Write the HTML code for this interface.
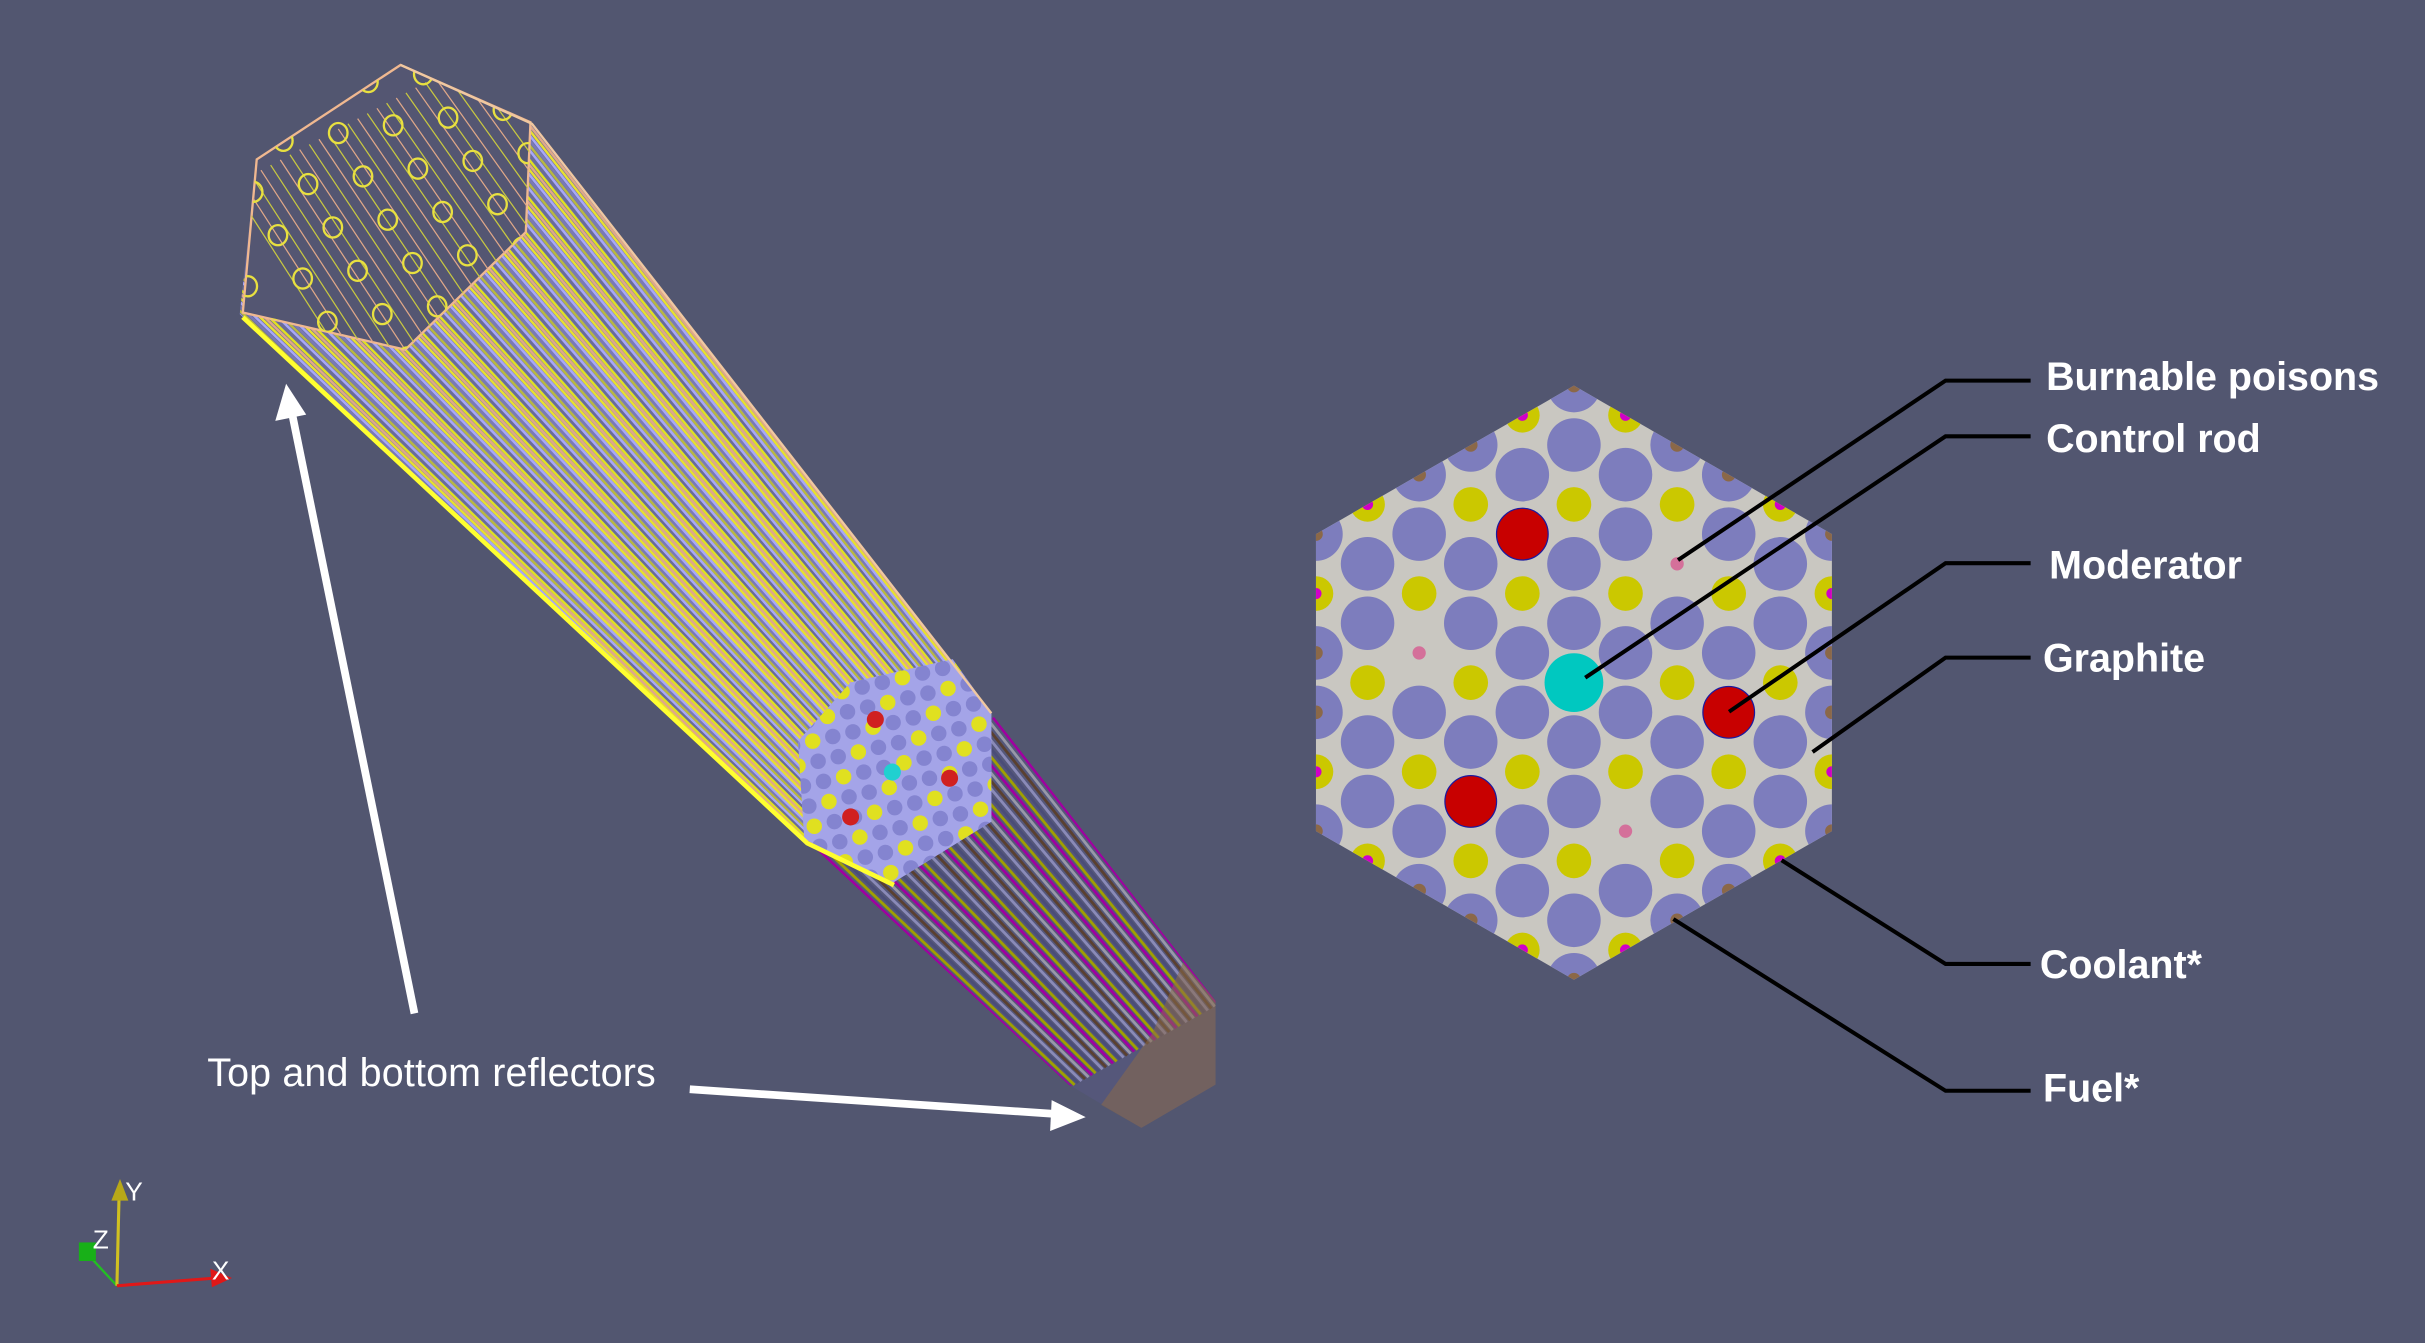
<!DOCTYPE html>
<html><head><meta charset="utf-8"><style>
html,body{margin:0;padding:0;background:#525670;}
svg{display:block;}
text{font-family:"Liberation Sans",sans-serif;fill:#fff;}
</style></head><body>
<svg id="root" width="2425" height="1343" viewBox="0 0 1568 868" preserveAspectRatio="none" xmlns="http://www.w3.org/2000/svg">
<rect x="0" y="0" width="1568" height="868" fill="#525670"/>
<defs>
<clipPath id="hexclip"><polygon points="1017.7,249.2 1184.5,345.2 1184.5,537.2 1017.7,633.2 850.9,537.2 850.9,345.2"/></clipPath>
<clipPath id="bodyclip"><path d="M155,203 L166,103 L259,42 L344,80 L426,185 L641,461 L641,531 L575,572 L520,542 Z"/></clipPath>
<clipPath id="lowclip"><path d="M520,542 L641,461 L786,647 L786,701 L738,729 L691,701 Z"/></clipPath>
<clipPath id="topclip"><path d="M157,202 L166,103 L259,42 L343,79 L340,150 L262,226 Z"/></clipPath>
<clipPath id="endclip"><path d="M516,479 L550,441 L616,426 L641,461 L641,531 L575,572 L520,542 Z"/></clipPath>
<linearGradient id="bodygrad" gradientUnits="userSpaceOnUse" x1="250" y1="120" x2="560" y2="500">
<stop offset="0" stop-color="#64669a"/><stop offset="0.45" stop-color="#8484c8"/><stop offset="1" stop-color="#9c9ce6"/>
</linearGradient>
</defs>

<g id="rod">
  <path d="M520,542 L641,461 L786,647 L786,701 L738,729 L691,701 Z" fill="#55577a"/>
  <g id="lowStripes" clip-path="url(#lowclip)"></g>
  <path d="M765,622 L786,647 L786,701 L738,729 L712,714 L745,668 Z" fill="#8a6a48" fill-opacity="0.55"/>
  <path d="M155,203 L166,103 L259,42 L344,80 L426,185 L641,461 L641,531 L575,572 L520,542 Z" fill="url(#bodygrad)"/>
  <g id="bodyStripes" clip-path="url(#bodyclip)"></g>
  <path d="M157,202 L166,103 L259,42 L343,79 L340,150 L262,226 Z" fill="#545672" stroke="#f0b890" stroke-width="1.5"/>
  <g id="topDots" clip-path="url(#topclip)"></g>
  <path d="M516,479 L550,441 L616,426 L641,461 L641,531 L575,572 L520,542 Z" fill="#a4a4e8"/>
  <g id="endDots" clip-path="url(#endclip)"></g>
  <polyline points="157,205 522,545 578,572" fill="none" stroke="#ffff30" stroke-width="3"/>
  <polyline points="259,42 344,80 426,185 641,461" fill="none" stroke="#f0c8a0" stroke-width="1.5"/>
</g>

<g id="lattice">
  <polygon points="1017.7,249.2 1184.5,345.2 1184.5,537.2 1017.7,633.2 850.9,537.2 850.9,345.2" fill="#c9c7c1"/>
  <g id="sites" clip-path="url(#hexclip)"></g>
</g>

<g id="leaders" stroke="#000" stroke-width="2.6" fill="none"></g>

<g font-weight="bold" font-size="25.5">
  <text x="1323" y="252">Burnable poisons</text>
  <text x="1323" y="292">Control rod</text>
  <text x="1325" y="374">Moderator</text>
  <text x="1321" y="434">Graphite</text>
  <text x="1319" y="632">Coolant*</text>
  <text x="1321" y="712">Fuel*</text>
</g>

<text x="134" y="702" font-size="25.5" textLength="290">Top and bottom reflectors</text>
<g>
  <line x1="268" y1="655" x2="189" y2="268" stroke="#fff" stroke-width="5"/>
  <polygon points="185,248 178,272 198,268" fill="#fff"/>
</g>
<g>
  <line x1="446" y1="704" x2="683" y2="720" stroke="#fff" stroke-width="5"/>
  <polygon points="702,722 680,711 679,731" fill="#fff"/>
</g>

<g>
  <line x1="75.6" y1="831" x2="57" y2="811" stroke="#22c022" stroke-width="1.5"/>
  <rect x="51" y="803" width="11" height="12" fill="#18b018"/>
  <line x1="75.6" y1="831" x2="77" y2="772" stroke="#d0c020" stroke-width="2"/>
  <polygon points="77.6,762 72,776 83,776" fill="#b8a818"/>
  <line x1="75.6" y1="831" x2="140" y2="826" stroke="#e01818" stroke-width="2"/>
  <polygon points="150,826 136,820 137,832" fill="#e01818"/>
  <text x="81" y="776" font-size="17">Y</text>
  <text x="60" y="807" font-size="17">Z</text>
  <text x="137" y="827" font-size="17">X</text>
</g>
</svg>
<script>
const NS = "http://www.w3.org/2000/svg";
// lattice data (site coordinates in lattice units a, j)
const redSites = [[-1,-5],[3,1],[-2,4]];
const pinkSites = [[2,-4],[-3,-1],[1,5]];
const cyanSites = [[0,0]];
const cx = 1017.7, cy = 441.2, ax = 33.36, jy = 19.2;
function has(list,a,j){return list.some(p=>p[0]===a&&p[1]===j);}
function circ(parent,x,y,r,fill,name,stroke){
  const c=document.createElementNS(NS,'circle');
  c.setAttribute('cx',x);c.setAttribute('cy',y);c.setAttribute('r',r);c.setAttribute('fill',fill);
  if(stroke){c.setAttribute('stroke',stroke);c.setAttribute('stroke-width','0.8');}
  
  
  parent.appendChild(c);return c;
}
const sites=document.getElementById('sites');
for(let a=-5;a<=5;a++){for(let j=-10;j<=10;j++){
  if(((a+j)%2+2)%2!==0) continue;
  if(Math.abs(a)+Math.abs(j)>10) continue;
  const x=cx+a*ax, y=cy+j*jy;
  const yellowRow=(j%3===0);
  const boundary=(Math.abs(a)===5||Math.abs(a)+Math.abs(j)===10);
  if(has(cyanSites,a,j)) circ(sites,x,y,19,'#00c8c0','control-rod');
  else if(has(redSites,a,j)) circ(sites,x,y,16.7,'#c80000','moderator-rod','#1a1aa0');
  else if(has(pinkSites,a,j)) circ(sites,x,y,4.3,'#d4709a','burnable-poison');
  else if(yellowRow){
    circ(sites,x,y,11.2,'#cbc800','coolant-channel');
    if(boundary) circ(sites,x,y,3.6,'#d000c8','coolant-dot');
  } else {
    circ(sites,x,y,17.3,'#7d7dbd','fuel-compact');
    if(boundary) circ(sites,x,y,4.4,'#8b6848','fuel-dot');
  }
}}
// leader lines
const leaderStarts=[[1085,362,246],[1025,438,282],[1118,460,364],[1172,486,425],[1152,556,623],[1082,594,705]];
const leaders=document.getElementById('leaders');
leaderStarts.forEach(p=>{
  const l=document.createElementNS(NS,'polyline');
  l.setAttribute('points',`${p[0]},${p[1]} 1258,${p[2]} 1313,${p[2]}`);
  
  
  leaders.appendChild(l);
});
// rod stripes
function stripes(g,L0,R0,L1,R1,n,colors,w){
  for(let i=0;i<=n;i++){
    const t=i/n;
    const x1=L0[0]+(R0[0]-L0[0])*t, y1=L0[1]+(R0[1]-L0[1])*t;
    const x2=L1[0]+(R1[0]-L1[0])*t, y2=L1[1]+(R1[1]-L1[1])*t;
    const l=document.createElementNS(NS,'line');
    l.setAttribute('x1',x1);l.setAttribute('y1',y1);l.setAttribute('x2',x2);l.setAttribute('y2',y2);
    l.setAttribute('stroke',colors[i%colors.length]);l.setAttribute('stroke-width',w);
    
    
    g.appendChild(l);
  }
}
stripes(document.getElementById('bodyStripes'),[140,195],[330,35],[515,550],[652,455],120,['#e0e020','#6a6c98','#a8a8f6','#b8b840','#7a7ab4','#a8a8f6','#e8e030','#e0a888'],1.6);
stripes(document.getElementById('lowStripes'),[515,545],[645,462],[688,705],[790,648],45,['#5a4030','#9898a8','#a000a0','#a0a000','#4a4d78','#8a8ab8'],1.8);
const td=document.getElementById('topDots');
stripes(td,[150,120],[300,40],[240,260],[380,150],24,['#c8c840','#e0a888'],0.8);
for(let m=-4;m<8;m++){for(let n=-4;n<8;n++){
  const x=218.7+m*35.5+n*16, y=86-m*5+n*28;
  const e=document.createElementNS(NS,'ellipse');
  e.setAttribute('cx',x);e.setAttribute('cy',y);e.setAttribute('rx',6);e.setAttribute('ry',6.5);
  e.setAttribute('fill','none');e.setAttribute('stroke','#e8e040');e.setAttribute('stroke-width',1.5);
  
  
  td.appendChild(e);
}}
const ed=document.getElementById('endDots');
for(let m=-2;m<12;m++){for(let n=-2;n<12;n++){
  const x=515+m*13+n*3.5, y=440+n*13-m*3;
  const c=document.createElementNS(NS,'circle');
  c.setAttribute('cx',x);c.setAttribute('cy',y);c.setAttribute('r',5);
  c.setAttribute('fill',(m+n)%3===0?'#e0e020':'#8484d0');
  
  
  ed.appendChild(c);
}}
[[566,465,'#d02020'],[614,503,'#d02020'],[550,528,'#d02020'],[577,499,'#20d0d0']].forEach(p=>{
  const c=document.createElementNS(NS,'circle');
  c.setAttribute('cx',p[0]);c.setAttribute('cy',p[1]);c.setAttribute('r',5.5);c.setAttribute('fill',p[2]);
  
  
  ed.appendChild(c);
});
</script>
</body></html>
